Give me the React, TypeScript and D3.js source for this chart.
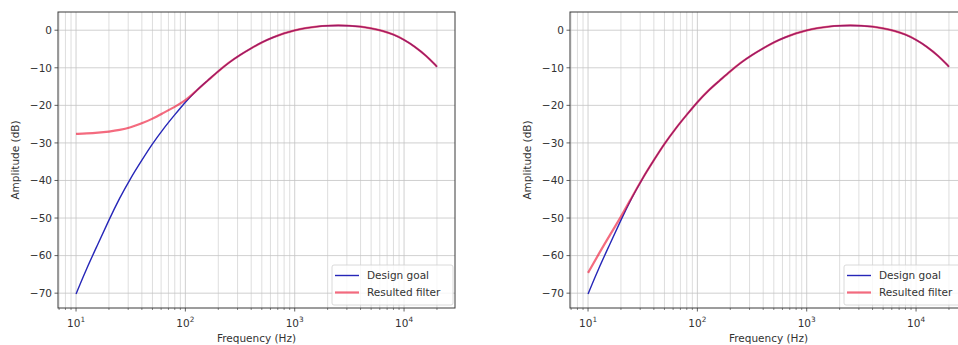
import React from "react";
import * as d3 from "d3";

const FREQS = [10, 12.5, 16, 20, 25, 31.5, 40, 50, 63, 80, 100, 125, 160, 200, 250, 315, 400, 500, 630, 800, 1000, 1250, 1600, 2000, 2500, 3150, 4000, 5000, 6300, 8000, 10000, 12500, 16000, 20000];
const DESIGN_GOAL = [-70.2, -63.4, -56.7, -50.5, -44.7, -39.4, -34.6, -30.2, -26.2, -22.5, -19.1, -16.1, -13.4, -10.9, -8.6, -6.6, -4.8, -3.2, -1.9, -0.8, 0, 0.6, 1.0, 1.2, 1.3, 1.2, 1.0, 0.5, -0.1, -1.1, -2.5, -4.3, -6.8, -9.7];
const RESULT_LEFT = [-27.6, -27.5, -27.3, -27.0, -26.6, -25.9, -24.8, -23.6, -22.0, -20.4, -18.8, -16.2, -13.4, -10.9, -8.6, -6.6, -4.8, -3.2, -1.9, -0.8, 0, 0.6, 1.0, 1.2, 1.3, 1.2, 1.0, 0.5, -0.1, -1.1, -2.5, -4.3, -6.8, -9.7];
const RESULT_RIGHT = [-64.6, -59.6, -54.3, -49.7, -44.6, -39.4, -34.6, -30.2, -26.2, -22.5, -19.1, -16.1, -13.4, -10.9, -8.6, -6.6, -4.8, -3.2, -1.9, -0.8, 0, 0.6, 1.0, 1.2, 1.3, 1.2, 1.0, 0.5, -0.1, -1.1, -2.5, -4.3, -6.8, -9.7];
const Y_TICKS = [0, -10, -20, -30, -40, -50, -60, -70];
const X_TICKS = [10, 100, 1000, 10000];
const X_TICK_EXP = ["1", "2", "3", "4"];
const SERIES_NAMES = ["Design goal", "Resulted filter"];

const W = 958;
const H = 345;
const AX_W = 397;
const AX_H = 296;
const AX_TOP = 12;
const FONT = "DejaVu Sans, sans-serif";
const FS = 10.5;
const BLUE = "#2626b8";
const RED = "#ee1030";

function Panel({ left, result }: { left: number; result: number[] }) {
  const x = d3.scaleLog().domain([6.84, 29240]).range([0, AX_W]);
  const y = d3.scaleLinear().domain([-73.95, 4.85]).range([AX_H, 0]);
  const line = d3
    .line<number>()
    .x((_, i) => x(FREQS[i]))
    .y((d) => y(d))
    .curve(d3.curveBasis);

  const minor: number[] = [];
  for (let e = 0; e <= 4; e++) {
    for (let m = 2; m <= 9; m++) {
      const v = m * Math.pow(10, e);
      if (v >= 6.84 && v <= 29240) minor.push(v);
    }
  }

  const lgX = AX_W - 123;
  const lgY = AX_H - 43;

  return (
    <g transform={`translate(${left},${AX_TOP})`}>
      <defs>
        <clipPath id={`clip${left}`}>
          <rect x={0} y={0} width={AX_W} height={AX_H} />
        </clipPath>
      </defs>
      {minor.map((v) => (
        <line key={"mg" + v} x1={x(v)} x2={x(v)} y1={0} y2={AX_H} stroke="#d6d6d6" strokeWidth={0.8} />
      ))}
      {X_TICKS.map((v) => (
        <line key={"Mg" + v} x1={x(v)} x2={x(v)} y1={0} y2={AX_H} stroke="#c4c4c4" strokeWidth={0.8} />
      ))}
      {Y_TICKS.map((v) => (
        <line key={"yg" + v} x1={0} x2={AX_W} y1={y(v)} y2={y(v)} stroke="#c4c4c4" strokeWidth={0.8} />
      ))}
      <g clipPath={`url(#clip${left})`}>
        <path d={line(DESIGN_GOAL) || ""} fill="none" stroke={BLUE} strokeWidth={1.4} />
        <path d={line(result) || ""} fill="none" stroke={RED} strokeOpacity={0.62} strokeWidth={2.2} />
      </g>
      <rect x={0} y={0} width={AX_W} height={AX_H} fill="none" stroke="#3a3a3a" strokeWidth={1} />
      {minor.map((v) => (
        <line key={"mt" + v} x1={x(v)} x2={x(v)} y1={AX_H} y2={AX_H + 2} stroke="#3a3a3a" strokeWidth={0.6} />
      ))}
      {X_TICKS.map((v, i) => (
        <g key={"xt" + v}>
          <line x1={x(v)} x2={x(v)} y1={AX_H} y2={AX_H + 3.5} stroke="#3a3a3a" strokeWidth={0.8} />
          <text x={x(v)} y={AX_H + 19} textAnchor="middle" fontFamily={FONT} fontSize={FS} fill="#333">
            10
            <tspan fontSize={FS * 0.7} dy={-5}>
              {X_TICK_EXP[i]}
            </tspan>
          </text>
        </g>
      ))}
      {Y_TICKS.map((v) => (
        <g key={"yt" + v}>
          <line x1={-3.5} x2={0} y1={y(v)} y2={y(v)} stroke="#3a3a3a" strokeWidth={0.8} />
          <text x={-6} y={y(v)} dy="0.36em" textAnchor="end" fontFamily={FONT} fontSize={FS} fill="#333">
            {v < 0 ? "\u2212" + Math.abs(v) : String(v)}
          </text>
        </g>
      ))}
      <text x={AX_W / 2} y={AX_H + 34} textAnchor="middle" fontFamily={FONT} fontSize={FS} fill="#333">
        Frequency (Hz)
      </text>
      <text
        transform={`translate(${-43},${AX_H / 2}) rotate(-90)`}
        textAnchor="middle"
        dy="0.36em"
        fontFamily={FONT}
        fontSize={FS}
        fill="#333"
      >
        Amplitude (dB)
      </text>
      <g transform={`translate(${lgX},${lgY})`}>
        <rect x={0} y={0} width={121} height={40} rx={2} fill="#ffffff" fillOpacity={0.8} stroke="#d0d0d0" strokeWidth={0.8} />
        <line x1={3} x2={27} y1={10.5} y2={10.5} stroke={BLUE} strokeWidth={1.4} />
        <line x1={3} x2={27} y1={27.5} y2={27.5} stroke={RED} strokeOpacity={0.62} strokeWidth={2.2} />
        <text x={35} y={10.5} dy="0.36em" fontFamily={FONT} fontSize={FS} fill="#333">
          {SERIES_NAMES[0]}
        </text>
        <text x={35} y={27.5} dy="0.36em" fontFamily={FONT} fontSize={FS} fill="#333">
          {SERIES_NAMES[1]}
        </text>
      </g>
    </g>
  );
}

export default function App() {
  return (
    <svg width={W} height={H} style={{ position: "absolute", left: 0, top: 0, background: "#fff" }}>
      <rect x={0} y={0} width={W} height={H} fill="#fff" />
      <Panel left={58} result={RESULT_LEFT} />
      <Panel left={570} result={RESULT_RIGHT} />
    </svg>
  );
}
